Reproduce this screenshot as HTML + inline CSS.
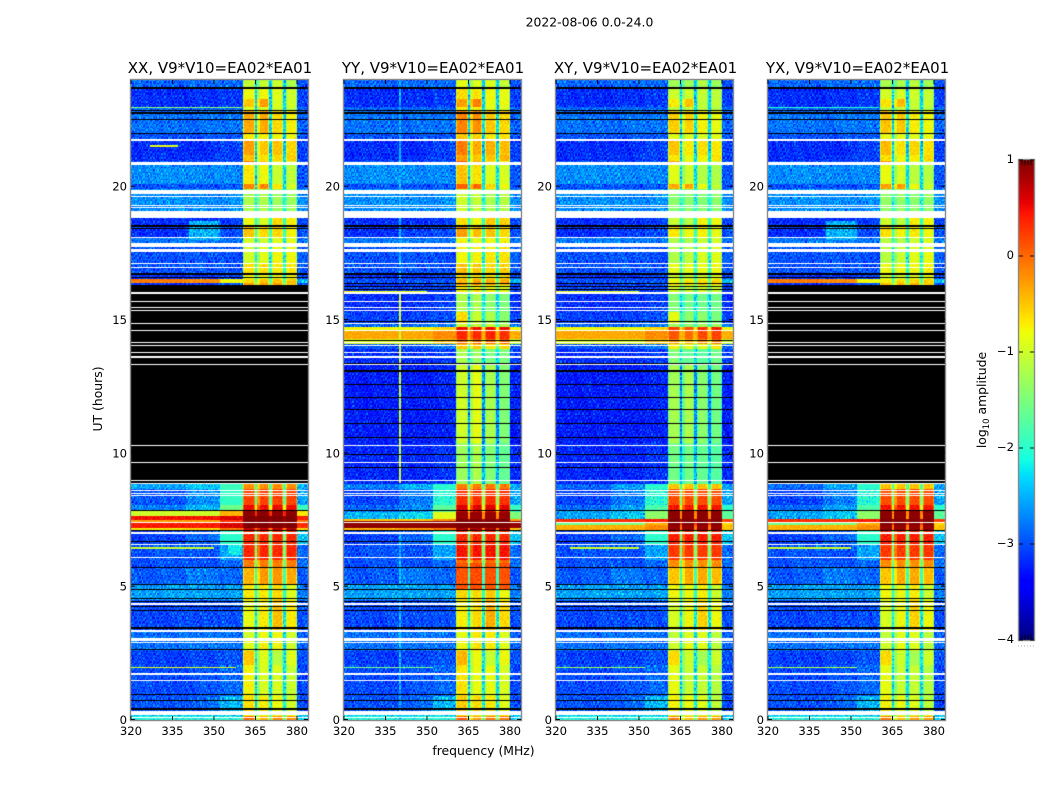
<!DOCTYPE html>
<html lang="en">
<head>
<meta charset="utf-8">
<title>2022-08-06 0.0-24.0</title>
<style>
  html, body { margin: 0; padding: 0; background: #fff; width: 1050px; height: 800px; overflow: hidden; }
  #figure { position: relative; width: 1050px; height: 800px; background: #fff; }
  canvas { position: absolute; display: block; }
  svg { position: absolute; left: 0; top: 0; }
  text { font-family: "DejaVu Sans", "Liberation Sans", sans-serif; fill: #000; }
</style>
</head>
<body>
<div id="figure">
  <canvas id="heat-0" width="177" height="640" style="left:131px;top:80px"></canvas>
  <canvas id="heat-1" width="177" height="640" style="left:344px;top:80px"></canvas>
  <canvas id="heat-2" width="177" height="640" style="left:556px;top:80px"></canvas>
  <canvas id="heat-3" width="177" height="640" style="left:768px;top:80px"></canvas>
  <canvas id="cbar" width="15" height="480" style="left:1019px;top:160px"></canvas>
  <svg id="overlay" width="1050" height="800" viewBox="0 0 1050 800">
    <text x="589.5" y="26.5" text-anchor="middle" font-size="12.4">2022-08-06 0.0-24.0</text>
    <text x="220" y="73" text-anchor="middle" font-size="15">XX, V9*V10=EA02*EA01</text>
    <text x="433" y="73" text-anchor="middle" font-size="15">YY, V9*V10=EA02*EA01</text>
    <text x="645.5" y="73" text-anchor="middle" font-size="15">XY, V9*V10=EA02*EA01</text>
    <text x="857.5" y="73" text-anchor="middle" font-size="15">YX, V9*V10=EA02*EA01</text>
    <text x="0" y="0" transform="translate(102,399) rotate(-90)" text-anchor="middle" font-size="12.4">UT (hours)</text>
    <text x="483.5" y="755" text-anchor="middle" font-size="12.4">frequency (MHz)</text>
    <text x="0" y="0" transform="translate(986,400) rotate(-90)" text-anchor="middle" font-size="12.4">log<tspan font-size="8.5" dy="3">10</tspan><tspan dy="-3"> amplitude</tspan></text>
  </svg>
</div>
<script>
// ---- axis limits and tick data ----
const freqLimits = [320, 384];
const utLimits = [0, 24];
const freqTicks = [320, 335, 350, 365, 380];
const freqTickLabels = ['320', '335', '350', '365', '380'];
const utTicks = [0, 5, 10, 15, 20];
const utTickLabels = ['0', '5', '10', '15', '20'];
const cbarTicks = [1, 0, -1, -2, -3, -4];
const cbarTickLabels = ['1', '0', '\u22121', '\u22122', '\u22123', '\u22124'];
const cbarLimits = [-4, 1];
const panelNames = ['xx', 'yy', 'xy', 'yx'];

// ---- spectrum structure (MHz): band 1 | gap | band 2 | gap | band 3 | gap | band 4 ----
const sweepEdges = [340, 352, 360.4];
const bandEdges = [360.4, 365, 365.7, 370.2, 370.9, 375.2, 375.9, 380];
const bandRolloffWidth = 0.7;
const bandRolloffDrop = 0.4;

// ---- UT rows: [ut0, ut1, low, mid, near, band1, band2, band3, band4, gap, right] in log10 amplitude ----
const upperRows = [
  [23.72,24,-2.9,-2.9,-2.9,-1.05,-1.05,-1,-1.2,-2.4,-3],
  [23.3,23.72,-3.2,-3.2,-3.15,-.8,-.8,-.9,-1,-2.4,-3.1],
  [23,23.3,-3.2,-3.2,-3.15,-.5,-.3,-.95,-1,-2.3,-3.1],
  [22.85,23,-2.9,-2.9,-2.9,-.9,-.9,-1,-1.1,-2.3,-2.9],
  [22,22.85,-2.85,-2.85,-2.85,-.35,-.35,-.6,-.75,-2.3,-2.9],
  [21.7,22,-3,-3,-3,-.7,-.7,-.8,-.8,-2.4,-3],
  [21.2,21.7,-3.2,-3.2,-3.1,-.3,-.5,-.5,-.6,-2.4,-3.1],
  [20.95,21.2,-3.2,-3.15,-3.1,-.5,-.65,-.6,-.55,-2.3,-3.1],
  [20.88,20.95,-3,-3,-3,-.1,-.5,-.8,-.9,-2.3,-3],
  [20.1,20.88,-2.7,-2.7,-2.75,-.7,-.8,-1,-1.1,-2.3,-3],
  [19.9,20.1,-3,-3,-3,-.15,-.15,-.7,-1,-2.3,-3],
  [18.83,19.9,-2.7,-2.7,-2.7,-1.2,-1.2,-1.3,-1.3,-2.1,-2.7],
  [18.5,18.83,-3.2,-3.2,-3.1,-.85,-.95,-.6,-.7,-2,-3.1],
  [18.1,18.5,-3.2,-3.1,-3,-.5,-.6,-.6,-.75,-1.9,-3],
  [17.9,18.1,-2.8,-2.8,-2.8,-1,-1,-.9,-.9,-2.1,-2.8],
  [17.1,17.9,-3,-3,-3,-1,-.9,-.8,-.8,-2.1,-2.9],
  [16.68,17.1,-3,-3,-3,-.65,-.65,-.7,-.7,-2,-3],
  [16.55,16.68,-3.2,-3.2,-3.1,-.8,-.8,-.8,-.8,-2,-3],
  [16.38,16.55,-.1,-.2,-.8,-.6,-.5,-.5,-.5,-1.7,-2.5],
  [16.28,16.38,-3.2,-3.2,-3,-.3,-.3,-.3,-.5,-1,-3]
];
const midRows = [
  [16,16.28,-3.1,-3.1,-3.1,-.7,-.7,-.8,-.9,-1.6,-3.1],
  [15.3,16,-3.2,-3.2,-3.1,-1.2,-1.2,-1.4,-1.5,-2.3,-3.2],
  [14.9,15.3,-3.1,-3.1,-3,-.6,-1,-1.2,-1.4,-2.1,-3.1],
  [14.75,14.9,-2.9,-2.9,-2.8,-1,-1,-1.1,-1.2,-1.9,-2.9],
  [14.62,14.75,-.8,-.8,-.6,.5,.5,.5,.5,-.4,-.8],
  [14.3,14.62,-.35,-.35,-.2,.35,.35,.35,.3,0,-.4],
  [14.1,14.3,-.9,-.9,-.5,0,0,0,0,-.4,-1],
  [13.9,14.1,-3,-3,-2.8,-.5,-.5,-.7,-.6,-1.7,-2.9],
  [13.3,13.9,-3.2,-3.2,-3.15,-1.2,-1.3,-1.5,-1.5,-2.3,-3.1],
  [10.4,13.3,-3.3,-3.3,-3.25,-1,-.85,-1.2,-1.45,-2.7,-3.3],
  [8.87,10.4,-3.25,-3.25,-3.15,-1.3,-1.2,-1.45,-1.65,-2.5,-3.2]
];
const strongRowsXX = [
  [8.65,8.87,-2.6,-2.4,-1.9,-.2,-.2,-.2,-.2,-1.4,-2.5],
  [8.05,8.65,-3,-2.7,-1.95,.2,.2,.2,.2,-1.3,-2.6],
  [7.85,8.05,-2.8,-2.5,-1.6,.5,.5,.5,.5,-.5,-1.9],
  [7.67,7.85,-1,-1,-.4,.95,.95,.95,.95,.7,-.7],
  [7.48,7.67,.45,.45,.6,1,1,1,1,.95,.4],
  [7.4,7.48,-.3,-.3,.3,1,1,1,1,.9,-.1],
  [7.22,7.4,.4,.4,.6,1,1,1,1,.9,.3],
  [7.08,7.22,-.7,-.6,-.1,.7,.7,.7,.7,.3,-.6],
  [6.55,7.08,-3.1,-2.9,-2,.35,.35,.35,.35,-1.2,-2.4]
];
const strongRowsYY = [
  [8.65,8.87,-2.8,-2.5,-2,-.1,-.1,-.1,-.1,-1.3,-2.5],
  [8.05,8.65,-3.1,-2.8,-2.05,.3,.3,.3,.3,-1,-2.6],
  [7.8,8.05,-2.9,-2.7,-1.7,.6,.6,.6,.6,-.4,-1.9],
  [7.55,7.8,-2.5,-2.3,-.9,.9,.9,.9,.9,.2,-1.5],
  [7.45,7.55,-.5,-.5,-.2,1,1,1,1,.8,-.3],
  [7.2,7.45,.95,.95,.95,1,1,1,1,1,.9],
  [7.08,7.2,-.4,-.3,-.1,.8,.8,.8,.8,.3,-.5],
  [6.55,7.08,-3.1,-2.9,-2,.35,.35,.35,.35,-1.2,-2.4]
];
const strongRowsCross = [
  [8.65,8.87,-2.9,-2.6,-2,-.5,-.5,-.5,-.5,-1.4,-2.6],
  [8.05,8.65,-3.1,-2.8,-2.05,.15,.15,.15,.15,-1.1,-2.6],
  [7.85,8.05,-2.9,-2.6,-1.8,.45,.45,.45,.45,-.6,-2],
  [7.55,7.85,-2.6,-2.4,-1.4,.95,.95,.95,.95,.2,-1.7],
  [7.42,7.55,.3,.3,.4,1,1,1,1,.8,.2],
  [7.3,7.42,-1.6,-1.5,-.4,1,1,1,1,.7,-.6],
  [7.08,7.3,-.4,-.4,-.2,.9,.9,.9,.9,.3,-.5],
  [6.55,7.08,-3.1,-2.9,-2,.4,.4,.4,.4,-1.2,-2.4]
];
const lowerRows = [
  [5.98,6.55,-3,-3,-2.6,.35,.35,.35,.35,-1.1,-2.9],
  [5.72,5.98,-3,-3,-2.9,-.1,-.1,-.1,-.1,-1.6,-2.9],
  [5.05,5.72,-2.95,-2.8,-2.9,-.4,-.25,-.25,-.35,-1.9,-3],
  [4.48,5.05,-2.6,-2.6,-2.6,-.7,-.7,-.6,-.9,-2,-2.8],
  [3.36,4.48,-3.05,-3.05,-3,-.85,-.7,-.45,-.7,-2.2,-3],
  [3.06,3.36,-2.85,-2.85,-2.85,-1,-.8,-.8,-1,-2.3,-2.9],
  [2.6,2.96,-2.85,-2.85,-2.85,-.9,-.75,-.8,-1,-2.3,-2.9],
  [2.05,2.6,-3.1,-3.1,-3,-.5,-.9,-1.15,-.9,-2.2,-3],
  [.92,2.05,-3.05,-3,-2.9,-.75,-.95,-.95,-1.05,-2.3,-3.05],
  [.36,.92,-3,-2.9,-2.5,-.65,-.7,-.8,-1,-2.2,-3.05],
  [.15,.36,-2.4,-2.4,-2.4,-.8,-.8,-.8,-.8,-1.9,-2.5],
  [0,.15,-2.1,-2.1,-2.1,0,-.4,-.2,-.2,-1.6,-2.4]
];

// ---- per-polarisation amplitude offsets for the four bands ----
const upperOffsetXX = [0, 0, 0, 0];
const upperOffsetYY = [.2, .15, .1, .15];
const upperOffsetXY = [-.2, -.2, -.15, -.1];
const upperOffsetYX = [-.15, -.15, -.1, -.05];
const midOffsetYY = [0, 0, 0, 0];
const midOffsetXY = [-.25, -.35, -.2, -.1];
const lowerOffsetXX = [0, 0, 0, 0];
const lowerOffsetYY = [.1, .1, .1, .1];
const lowerOffsetXY = [-.1, -.1, -.1, -.1];
const lowerOffsetYX = [-.1, -.1, -.1, -.1];

// ---- narrow features: [ut0, ut1, freq0, freq1, level] ----
const featuresXX = [
  [22.93,22.98,320,360,-1.4],[21.49,21.55,327,337,-.9],[18,18.7,341,352,-2.5],
  [6.42,6.48,320,350,-1],[1.96,2.02,320,358,-.9],[6.2,6.55,355,360,-2.2]
];
const featuresYY = [
  [8.9,16,339.8,340.4,-1],[0,7,339.8,340.4,-2.5],[16.4,24,339.8,340.4,-2.5],
  [16.38,16.55,320,360.4,-3],[16.06,16.12,320,350,-.8],[1.96,2.02,320,352,-1.5],
  [4.9,5.9,360.4,365,.1],[4.9,5.9,365.7,370.2,.15],[4.9,5.9,370.9,375.2,.1],[4.9,5.9,375.9,380,.1]
];
const featuresXY = [
  [16.38,16.55,320,360.4,-3],[16.06,16.12,320,350,-.9],[14.86,14.92,333,337,0],
  [6.42,6.48,325,350,-1],[1.96,2.02,320,352,-1.3]
];
const featuresYX = [
  [22.93,22.98,320,360,-2],[18,18.7,341,352,-2.5],[6.42,6.48,320,350,-1],[1.96,2.02,320,352,-1.2]
];

// ---- flagged UT ranges: no data (white) and zeroed (black) ----
const noDataBands = [
  [21.73,21.78],[20.82,20.92],[19.72,19.89],[19.61,19.66],[19.27,19.31],[19.19,19.24],[18.83,19.07],
  [18.06,18.1],[17.72,17.89],[17.54,17.65],[17.1,17.15],[16.95,17],[15.96,16.04],[15.67,15.71],
  [15.44,15.49],[15.33,15.37],[14.84,14.89],[14.58,14.62],[14.13,14.17],[14.02,14.06],[13.75,13.8],
  [13.56,13.64],[13.3,13.35],[10.26,10.31],[9.62,9.67],[8.95,8.99],[8.57,8.63],[8.47,8.53],[8.39,8.43],
  [7.37,7.42],[6.99,7.04],[6.55,6.6],[6.06,6.11],[4.33,4.38],[3.31,3.36],[2.96,3.06],[2.87,2.93],
  [1.7,1.76],[1.46,1.51],[.17,.33],[.06,.1]
];
const zeroedBands = [
  [23.67,23.72],[22.83,22.89],[22.74,22.8],[22.5,22.55],[21.98,22.03],[18.5,18.55],[18.41,18.46],
  [16.7,16.75],[16.58,16.62],[7.83,7.88],[7.07,7.11],[6.66,6.7],[5.7,5.74],[5.06,5.1],[4.88,4.92],
  [4.54,4.58],[4.44,4.48],[4.24,4.28],[4.09,4.13],[3.43,3.47],[2.62,2.66],[.95,.99],[.71,.75],[.38,.44]
];
const zeroedBandsParallel = [
  [16.36,16.4],[16.23,16.27],[16.13,16.17],[14.95,14.98],[14.22,14.26],[13.35,13.4],[13.04,13.13],
  [12.55,12.6],[12.06,12.11],[11.62,11.67],[11.09,11.14],[10.58,10.63],[9.93,9.98],[9.44,9.49]
];
const zeroedBlockSingle = [[8.87,16.3]];

// ---- hand-entered pixel-scale scatter, in log10 amplitude ----
const speckle = [
  [ .21,-.14, .05,-.27, .33,-.08, .12,-.31, .02, .26,-.19, .09,-.05],
  [-.22, .31,-.11, .07,-.03, .24,-.29, .16,-.12,-.02, .35,-.24, .13],
  [ .08,-.26, .19, .28,-.17,-.06, .03, .37,-.21, .11,-.09, .18,-.33],
  [-.04, .14,-.35, .01, .22,-.23, .29,-.13, .06,-.28, .17, .03, .25],
  [ .27,-.07, .12,-.18,-.01, .34,-.16,-.04, .23, .1,-.3, .2,-.12],
  [-.3, .18, .02, .25,-.24, .07, .11,-.26, .32,-.15, .04,-.08, .16],
  [ .1,-.2, .3,-.09, .15,-.32, .2, .05,-.11, .28,-.22, .13,-.02],
  [-.13, .04,-.25, .36,-.06, .17,-.1, .26,-.34, .03, .19,-.17, .08],
  [ .24,-.29, .09,-.12, .2, .01,-.27, .13, .07,-.2, .3,-.03,-.16],
  [-.06, .22,-.15, .04,-.31, .27, .08,-.19, .16,-.01,-.12, .33,-.23],
  [ .15,-.02,.26,-.21, .11,-.14, .31,-.07,-.25, .18, .06,-.28, .21]
];

// ---- panel geometry ----
const panelLefts = [131, 344, 556, 768];
const panelWidth = 177;
const panelTop = 80;
const panelHeight = 640;
const channelStep = 0.5;
const timeStep = 0.05;

function xScale(freq) { return (freq - freqLimits[0]) / (freqLimits[1] - freqLimits[0]) * panelWidth; }
function yScale(ut) { return (utLimits[1] - ut) / (utLimits[1] - utLimits[0]) * panelHeight; }

function jetChannel(stops, t) {
  for (let i = 1; i < stops.length; i++) {
    if (t <= stops[i][0]) {
      const a = stops[i - 1], b = stops[i];
      return a[1] + (b[1] - a[1]) * (t - a[0]) / (b[0] - a[0]);
    }
  }
  return stops[stops.length - 1][1];
}
const jetRed = [[0,0],[.35,0],[.66,1],[.89,1],[1,.5]];
const jetGreen = [[0,0],[.125,0],[.375,1],[.64,1],[.91,0],[1,0]];
const jetBlue = [[0,.5],[.11,1],[.34,1],[.65,0],[1,0]];
const colorTable = [];
for (let i = 0; i < 256; i++) {
  const t = i / 255;
  colorTable.push('rgb(' + Math.round(255 * jetChannel(jetRed, t)) + ',' + Math.round(255 * jetChannel(jetGreen, t)) + ',' + Math.round(255 * jetChannel(jetBlue, t)) + ')');
}
function colorScale(level) {
  const t = (level - cbarLimits[0]) / (cbarLimits[1] - cbarLimits[0]);
  return colorTable[Math.max(0, Math.min(255, Math.round(t * 255)))];
}

function offsetRows(rows, offset) {
  return rows.map(function (r) {
    return [r[0], r[1], r[2], r[3], r[4], r[5] + offset[0], r[6] + offset[1], r[7] + offset[2], r[8] + offset[3], r[9], r[10]];
  });
}
const panelRows = [
  offsetRows(upperRows, upperOffsetXX).concat(strongRowsXX, offsetRows(lowerRows, lowerOffsetXX)),
  offsetRows(upperRows, upperOffsetYY).concat(offsetRows(midRows, midOffsetYY), strongRowsYY, offsetRows(lowerRows, lowerOffsetYY)),
  offsetRows(upperRows, upperOffsetXY).concat(offsetRows(midRows, midOffsetXY), strongRowsCross, offsetRows(lowerRows, lowerOffsetXY)),
  offsetRows(upperRows, upperOffsetYX).concat(strongRowsCross, offsetRows(lowerRows, lowerOffsetYX))
];
const panelFeatures = [featuresXX, featuresYY, featuresXY, featuresYX];
const panelZeroed = [
  zeroedBands.concat(zeroedBlockSingle),
  zeroedBands.concat(zeroedBandsParallel),
  zeroedBands.concat(zeroedBandsParallel),
  zeroedBands.concat(zeroedBlockSingle)
];

function rowLevel(row, freq) {
  if (freq < sweepEdges[0]) return row[2];
  if (freq < sweepEdges[1]) return row[3];
  if (freq < sweepEdges[2]) return row[4];
  if (freq < bandEdges[1]) return row[5];
  if (freq < bandEdges[2]) return row[9];
  if (freq < bandEdges[3]) return row[6];
  if (freq < bandEdges[4]) return row[9];
  if (freq < bandEdges[5]) return row[7];
  if (freq < bandEdges[6]) return row[9];
  if (freq < bandEdges[7]) return row[8];
  return row[10];
}
function nearBandEdge(freq) {
  if (freq < bandEdges[0] || freq > bandEdges[7]) return false;
  return bandEdges.some(function (e) { return Math.abs(freq - e) < bandRolloffWidth; });
}

function drawBand(ctx, ut0, ut1, color) {
  const top = Math.round(yScale(ut1));
  const bottom = Math.max(top + 1, Math.round(yScale(ut0)));
  ctx.fillStyle = color;
  ctx.fillRect(0, top, panelWidth, bottom - top);
}

function drawPanel(p) {
  const ctx = document.getElementById('heat-' + p).getContext('2d');
  const rows = panelRows[p];
  const features = panelFeatures[p];
  const nTime = Math.round((utLimits[1] - utLimits[0]) / timeStep);
  const nChan = Math.round((freqLimits[1] - freqLimits[0]) / channelStep);
  ctx.fillStyle = '#fff';
  ctx.fillRect(0, 0, panelWidth, panelHeight);
  for (let r = 0; r < nTime; r++) {
    const ut = utLimits[0] + (r + 0.5) * timeStep;
    const row = rows.find(function (q) { return ut >= q[0] && ut < q[1]; });
    if (!row) continue;
    const active = features.filter(function (q) { return ut >= q[0] && ut < q[1]; });
    const top = Math.round(yScale(ut + timeStep / 2));
    const bottom = Math.round(yScale(ut - timeStep / 2));
    const tile = speckle[(r + p * 3) % speckle.length];
    for (let c = 0; c < nChan; c++) {
      const freq = freqLimits[0] + (c + 0.5) * channelStep;
      let level = rowLevel(row, freq);
      if (level > -1.6 && level < .8 && nearBandEdge(freq)) level -= bandRolloffDrop;
      for (let k = 0; k < active.length; k++) {
        if (freq >= active[k][2] && freq < active[k][3]) level = active[k][4];
      }
      const scatter = tile[(c + p * 5 + (r >> 2) * 3) % tile.length] + 0.7 * speckle[(c * 3 + r) % speckle.length][(r * 5 + c * 2) % tile.length];
      level += level < -2 ? scatter : (level < .9 ? scatter * .35 : 0);
      const left = Math.round(xScale(freq - channelStep / 2));
      const right = Math.round(xScale(freq + channelStep / 2));
      ctx.fillStyle = colorScale(level);
      ctx.fillRect(left, top, right - left, bottom - top);
    }
  }
  panelZeroed[p].forEach(function (b) { drawBand(ctx, b[0], b[1], '#000'); });
  noDataBands.forEach(function (b) { drawBand(ctx, b[0], b[1], '#fff'); });
}

function drawColorbar() {
  const ctx = document.getElementById('cbar').getContext('2d');
  for (let i = 0; i < 480; i++) {
    const level = cbarLimits[1] - (i + 0.5) / 480 * (cbarLimits[1] - cbarLimits[0]);
    ctx.fillStyle = colorScale(level);
    ctx.fillRect(0, i, 15, 1);
  }
}

const svg = document.getElementById('overlay');
const NS = 'http://www.w3.org/2000/svg';
function addLine(x1, y1, x2, y2, color, width, name) {
  const el = document.createElementNS(NS, 'line');
  el.setAttribute('x1', x1);
  el.setAttribute('y1', y1);
  el.setAttribute('x2', x2);
  el.setAttribute('y2', y2);
  el.setAttribute('stroke', color);
  el.setAttribute('stroke-width', width);
  
  
  svg.appendChild(el);
}
function addText(x, y, label, anchor, name) {
  const el = document.createElementNS(NS, 'text');
  el.setAttribute('x', x);
  el.setAttribute('y', y);
  el.setAttribute('text-anchor', anchor);
  el.setAttribute('font-size', '11.6');
  el.textContent = label;
  
  
  svg.appendChild(el);
}
function addFrame(x, y, w, h, name) {
  const el = document.createElementNS(NS, 'rect');
  el.setAttribute('x', x - 0.5);
  el.setAttribute('y', y - 0.5);
  el.setAttribute('width', w + 1);
  el.setAttribute('height', h + 1);
  el.setAttribute('fill', 'none');
  el.setAttribute('stroke', '#8a8a8a');
  el.setAttribute('stroke-width', '1.4');
  
  
  svg.appendChild(el);
}

panelLefts.forEach(function (left, p) {
  const pol = panelNames[p];
  drawPanel(p);
  addFrame(left, panelTop, panelWidth, panelHeight, 'plot-frame-' + pol);
  freqTicks.forEach(function (f, i) {
    const x = left + xScale(f);
    addLine(x, panelTop + panelHeight, x, panelTop + panelHeight - 4, '#000', 0.9, 'x-tick-' + pol + '-' + f);
    addLine(x, panelTop, x, panelTop + 4, '#000', 0.9, 'x-tick-top-' + pol + '-' + f);
    addText(x, panelTop + panelHeight + 15, freqTickLabels[i], 'middle', 'x-tick-label-' + pol + '-' + f);
  });
  utTicks.forEach(function (t, i) {
    const y = panelTop + yScale(t) - 0.5;
    addLine(left, y, left + 4, y, '#000', 0.9, 'y-tick-' + pol + '-' + t);
    addLine(left + panelWidth, y, left + panelWidth - 4, y, '#000', 0.9, 'y-tick-right-' + pol + '-' + t);
    addText(left - 4, y + 4.5, utTickLabels[i], 'end', 'y-tick-label-' + pol + '-' + t);
  });
});

drawColorbar();
addFrame(1019, 160, 15, 480, 'colorbar-frame');
cbarTicks.forEach(function (v, i) {
  const y = 160 + (cbarLimits[1] - v) / (cbarLimits[1] - cbarLimits[0]) * 480;
  addLine(1019, y, 1023, y, '#000', 0.9, 'colorbar-tick-left-' + i);
  addLine(1034, y, 1030, y, '#000', 0.9, 'colorbar-tick-right-' + i);
  addText(1014, y + 3, cbarTickLabels[i], 'end', 'colorbar-tick-label-' + i);
});
[1022, 1025, 1028, 1031].forEach(function (x, i) {
  addLine(x, 160, x, 165, '#000', 0.8, 'colorbar-hatch-top-' + i);
  addLine(x, 640, x, 635, '#000', 0.8, 'colorbar-hatch-bottom-' + i);
});
[1018, 1021, 1024, 1027, 1030, 1033].forEach(function (x, i) {
  addLine(x, 646, x + 1, 646, '#aaa', 1, 'colorbar-dot-' + i);
});
</script>
</body>
</html>
